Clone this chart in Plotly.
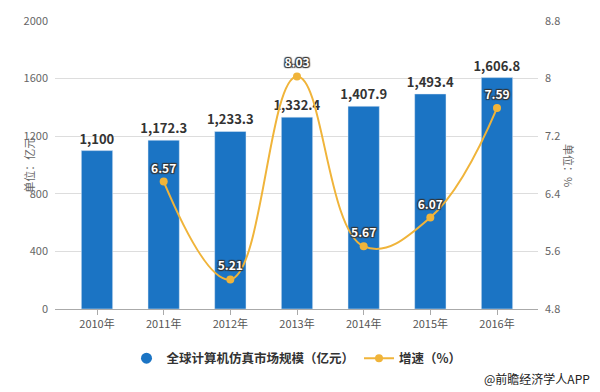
import plotly.graph_objects as go

years = ["2010年", "2011年", "2012年", "2013年", "2014年", "2015年", "2016年"]
market_size = [1100, 1172.3, 1233.3, 1332.4, 1407.9, 1493.4, 1606.8]
market_labels = ["1,100", "1,172.3", "1,233.3", "1,332.4", "1,407.9", "1,493.4", "1,606.8"]
growth_years = ["2011年", "2012年", "2013年", "2014年", "2015年", "2016年"]
growth = [6.57, 5.21, 8.03, 5.67, 6.07, 7.59]
growth_labels = ["6.57", "5.21", "8.03", "5.67", "6.07", "7.59"]

left_ticks = [0, 400, 800, 1200, 1600, 2000]
right_ticks = [4.8, 5.6, 6.4, 7.2, 8.0, 8.8]
right_ticktext = ["4.8", "5.6", "6.4", "7.2", "8", "8.8"]

FONT = "Noto Sans CJK SC, Noto Sans, sans-serif"
BLUE = "#1B74C4"
ORANGE = "#F0B43A"

fig = go.Figure()

fig.add_trace(go.Bar(
    x=years, y=market_size, name="全球计算机仿真市场规模（亿元）",
    marker_color=BLUE, width=0.47,
    text=market_labels, textposition="outside", cliponaxis=False, constraintext="none",
    textfont=dict(family=FONT, size=13, color="#333333", weight="bold"),
    showlegend=False,
))
# legend entry with circle symbol for the bar series
fig.add_trace(go.Scatter(
    x=[None], y=[None], mode="markers", name="全球计算机仿真市场规模（亿元）",
    marker=dict(color=BLUE, size=11, symbol="circle"),
))
fig.add_trace(go.Scatter(
    x=growth_years, y=growth, name="增速（%）", yaxis="y2",
    mode="lines+markers+text", line=dict(color=ORANGE, width=2, shape="spline", smoothing=1.2),
    marker=dict(color=ORANGE, size=8),
    text=growth_labels, textposition="top center", cliponaxis=False,
    textfont=dict(family=FONT, size=12, color="white", weight="bold",
                  shadow="1px 1px 1px #333, -1px -1px 1px #333, 1px -1px 1px #333, -1px 1px 1px #333"),
))

fig.update_layout(
    width=600, height=392,
    margin=dict(l=55, r=62, t=18, b=83),
    paper_bgcolor="white", plot_bgcolor="white",
    font=dict(family=FONT, size=11, color="#666666"),
    xaxis=dict(type="category", range=[-0.63, 6.615], showgrid=False,
               showline=True, linecolor="#aaaaaa", ticks="outside", ticklen=5,
               tickcolor="#aaaaaa", tickfont=dict(size=11, color="#555555")),
    yaxis=dict(range=[0, 2000], tickvals=left_ticks, showgrid=True, gridcolor="#dddddd",
               zeroline=False, tickfont=dict(size=11, color="#666666"), ticks="", ticklabelstandoff=6),
    yaxis2=dict(range=[4.8, 8.8], tickvals=right_ticks, ticktext=right_ticktext,
                overlaying="y", side="right", showgrid=False, zeroline=False,
                tickfont=dict(size=11, color="#666666"), ticklabelstandoff=6),
    legend=dict(orientation="h", x=0.5, xanchor="center", y=-0.12, yanchor="top",
                font=dict(family=FONT, size=12.5, color="#333333", weight="bold"),
                itemwidth=30, tracegroupgap=0),
    bargap=0.5,
)

fig.add_annotation(text="单位：亿元", xref="paper", yref="paper", x=-0.075, y=0.5,
                   showarrow=False, textangle=-90, font=dict(family=FONT, size=11, color="#666666"))
fig.add_annotation(text="单位：%", xref="paper", yref="paper", x=1.085, y=0.5,
                   showarrow=False, textangle=90, font=dict(family=FONT, size=11, color="#666666"))
fig.add_annotation(text="@前瞻经济学人APP", xref="paper", yref="paper", x=1.112, y=-0.24,
                   xanchor="right", yanchor="middle", showarrow=False,
                   font=dict(family=FONT, size=12, color="#222222"))

fig.write_html("out.html", config={"displayModeBar": False},
               post_script="document.body.style.margin='0';document.body.style.overflow='hidden';")
